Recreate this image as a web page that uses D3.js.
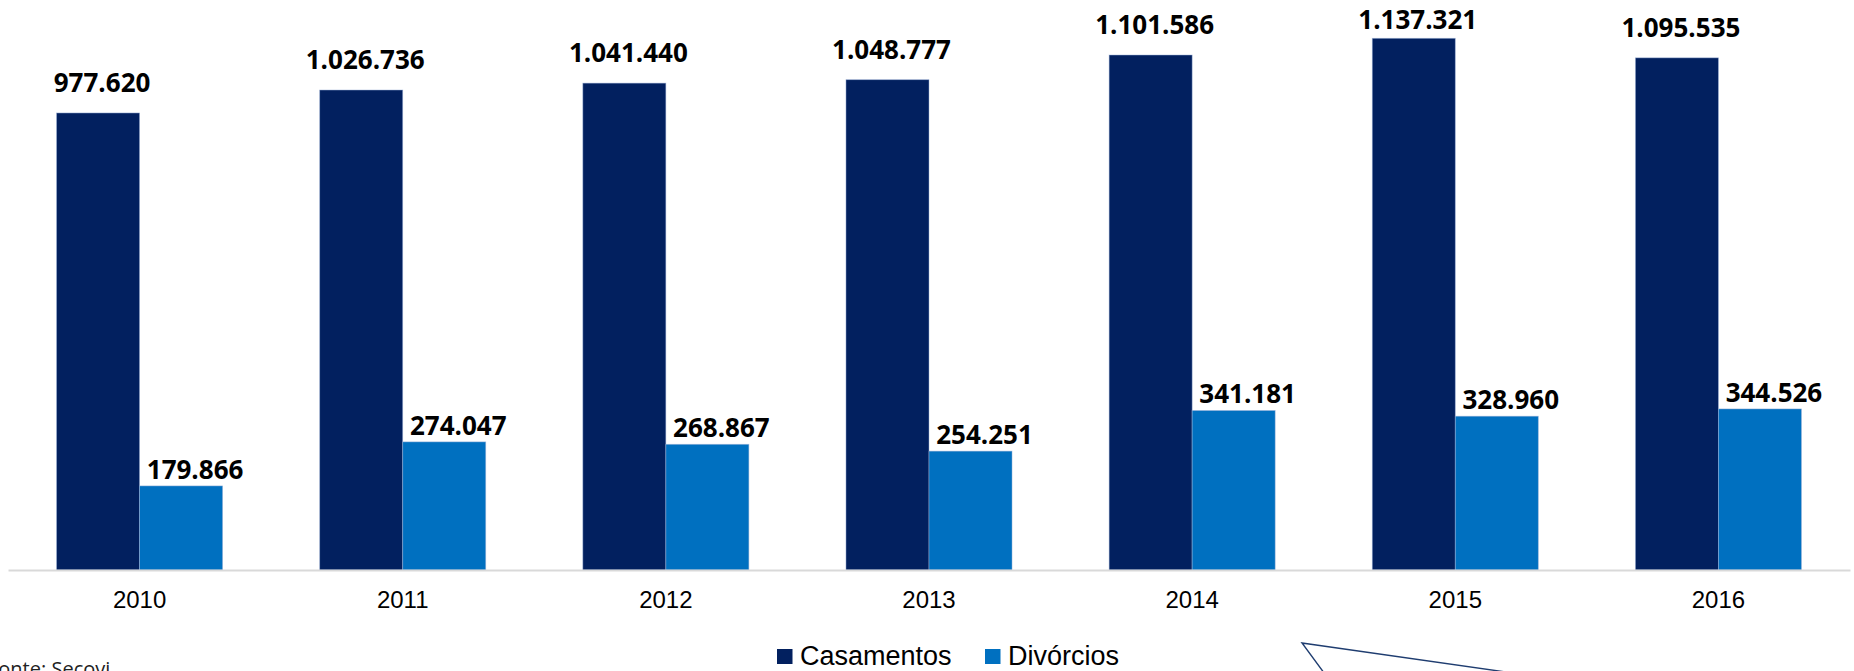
<!DOCTYPE html>
<html lang="pt-BR">
<head>
<meta charset="utf-8">
<title>Casamentos e Divórcios 2010–2016</title>
<script src="https://cdn.jsdelivr.net/npm/d3@7"></script>
<style>
  html, body { margin: 0; padding: 0; background: #ffffff; overflow: hidden; }
  svg { display: block; }
</style>
</head>
<body>
<svg id="chart" width="1854" height="671"></svg>
<script>
// Registros anuais de casamentos e divórcios
const years = ["2010", "2011", "2012", "2013", "2014", "2015", "2016"];
const seriesNames = ["Casamentos", "Divórcios"];
const casamentos = [977620, 1026736, 1041440, 1048777, 1101586, 1137321, 1095535];
const divorcios = [179866, 274047, 268867, 254251, 341181, 328960, 344526];
const seriesColors = ["#02205f", "#0070c0"];
const sourceNote = "Fonte: Secovi";

const W = 1854, H = 671;
const axisY = 570;

const svg = d3.select("#chart");

const rows = years.map((y, i) => ({ year: y, values: [casamentos[i], divorcios[i]] }));

// Escalas
const x0 = d3.scaleBand()
  .domain(years)
  .range([8, 1850])
  .paddingInner(0.369)
  .paddingOuter(0.1845);

const x1 = d3.scaleBand()
  .domain(seriesNames)
  .range([0, x0.bandwidth()])
  .padding(0);

const y = d3.scaleLinear()
  .domain([0, 1200000])
  .range([axisY, 9]);

const color = d3.scaleOrdinal().domain(seriesNames).range(seriesColors);

// Barras
const groups = svg.append("g")
  .selectAll("g")
  .data(rows)
  .join("g")
  .attr("transform", d => `translate(${x0(d.year)},0)`);

groups.selectAll("rect")
  .data(d => d.values.map((v, k) => ({ key: seriesNames[k], value: v })))
  .join("rect")
  .attr("x", d => x1(d.key))
  .attr("y", d => y(d.value))
  .attr("width", x1.bandwidth())
  .attr("height", d => axisY - y(d.value))
  .attr("fill", d => color(d.key))
  .attr("stroke", "#9fb3d9")
  .attr("stroke-opacity", 0.6)
  .attr("stroke-width", 0.8);

// Rótulos de valor
const fmt = v => d3.format(",")(v).replace(/,/g, ".");
groups.selectAll("text.value")
  .data(d => d.values.map((v, k) => ({ key: seriesNames[k], value: v })))
  .join("text")
  .attr("class", "value")
  .attr("x", d => x1(d.key) + x1.bandwidth() / 2 + (d.key === "Casamentos" ? 4 : 14))
  .attr("y", d => d.key === "Casamentos"
    ? Math.max(y(d.value) - 21, 29)
    : y(d.value) - 7)
  .attr("text-anchor", "middle")
  .attr("font-family", "'Open Sans', 'Noto Sans', sans-serif")
  .attr("font-weight", 700)
  .attr("font-size", 26)
  .attr("fill", "#000")
  .text(d => fmt(d.value));

// Eixo das categorias
const xAxis = d3.axisBottom(x0).tickSize(0).tickSizeOuter(0);
const ax = svg.append("g")
  .attr("transform", `translate(0,${axisY})`)
  .call(xAxis);
ax.select(".domain")
  .attr("stroke", "#d9d9d9")
  .attr("stroke-width", 2);
ax.selectAll(".tick text")
  .attr("y", 38)
  .attr("dy", 0)
  .attr("font-family", "'Liberation Sans', Arial, sans-serif")
  .attr("font-size", 24)
  .attr("fill", "#000");

// Legenda
const legend = svg.append("g").attr("transform", "translate(777,665)");
const legendOffsets = [0, 208];
const items = legend.selectAll("g")
  .data(seriesNames)
  .join("g")
  .attr("transform", (d, i) => `translate(${legendOffsets[i]},0)`);
items.append("rect")
  .attr("x", 0)
  .attr("y", -16)
  .attr("width", 15.5)
  .attr("height", 15)
  .attr("fill", d => color(d));
items.append("text")
  .attr("x", 23)
  .attr("y", 0)
  .attr("font-family", "'Liberation Sans', Arial, sans-serif")
  .attr("font-size", 27)
  .attr("fill", "#000")
  .text(d => d);

// Nota de fonte
svg.append("text")
  .attr("x", -12)
  .attr("y", 676)
  .attr("font-family", "'Open Sans', 'Noto Sans', sans-serif")
  .attr("font-size", 20)
  .attr("fill", "#222")
  .text(sourceNote);

// Seta de chamada
svg.append("path")
  .attr("d", "M1330,681 L1302,643 L1562,680")
  .attr("fill", "none")
  .attr("stroke", "#1f3d70")
  .attr("stroke-width", 1.4);
</script>
</body>
</html>
